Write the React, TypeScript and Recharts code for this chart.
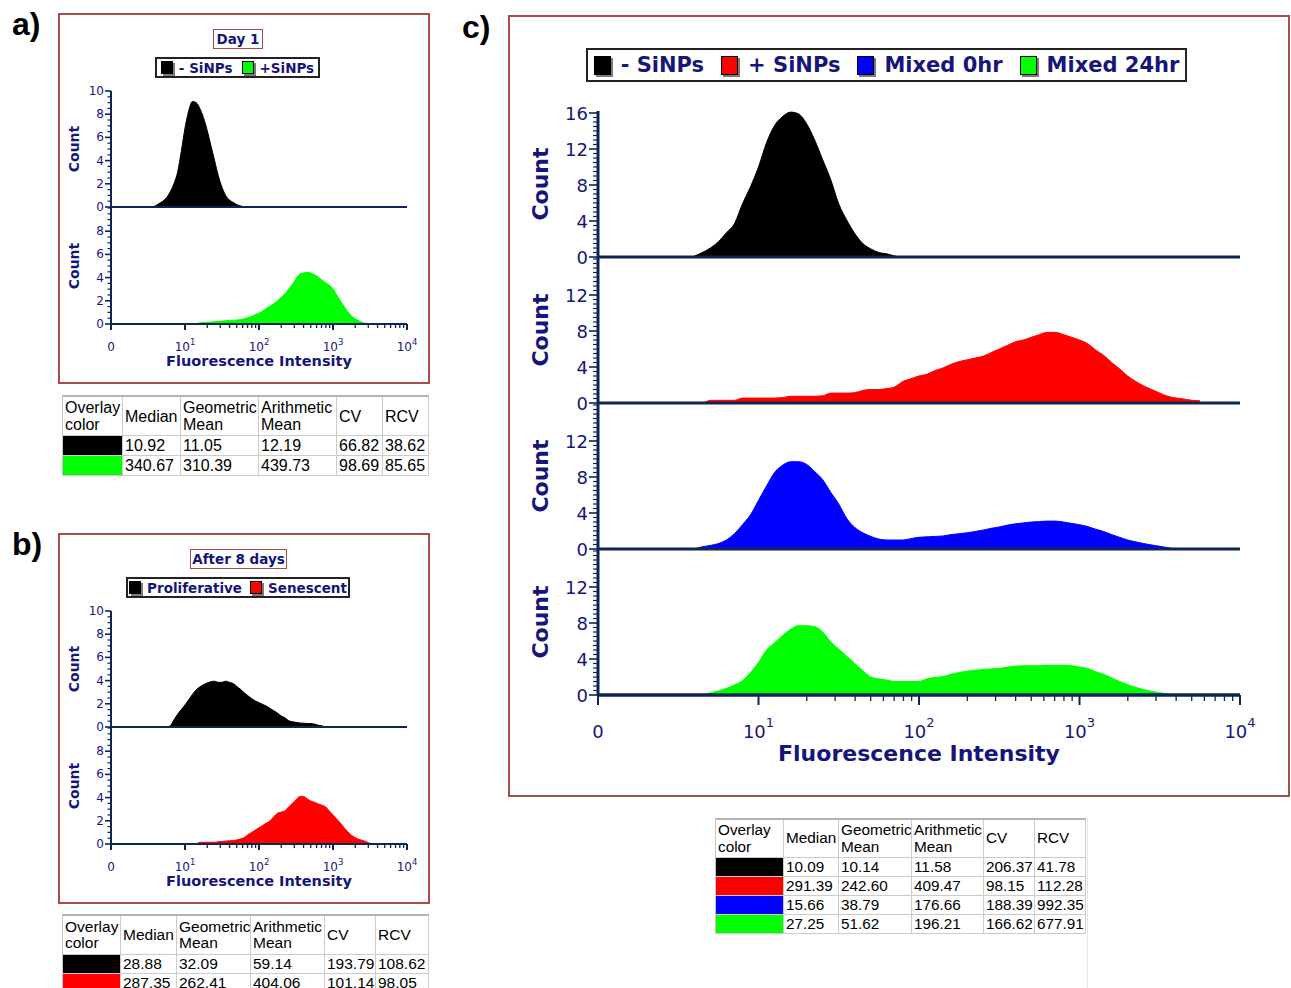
import React from "react";
import { AreaChart, Area, XAxis, YAxis, ReferenceLine } from "recharts";

// ─── Data ─────────────────────────────────────────────────────────────────────
// bin positions in decades (log10 of fluorescence intensity)
const BINS_C = [
  0.6, 0.65, 0.7, 0.75, 0.8, 0.85, 0.9, 0.95, 1.0, 1.05, 1.1, 1.15, 1.2, 1.25, 1.3, 1.35,
  1.4, 1.45, 1.5, 1.55, 1.6, 1.65, 1.7, 1.75, 1.8, 1.85, 1.9, 1.95, 2.0, 2.05, 2.1, 2.15,
  2.2, 2.25, 2.3, 2.35, 2.4, 2.45, 2.5, 2.55, 2.6, 2.65, 2.7, 2.75, 2.8, 2.85, 2.9, 2.95,
  3.0, 3.05, 3.1, 3.15, 3.2, 3.25, 3.3, 3.35, 3.4, 3.45, 3.5, 3.55, 3.6, 3.65, 3.7, 3.75,
];
const NEG_SINPS_C = [
  0.1, 0.5, 1.0, 1.7, 2.7, 3.7, 5.9, 7.8, 10.0, 12.7, 14.6, 15.6, 16.1, 15.9, 14.8, 13.0,
  10.8, 8.6, 5.9, 4.1, 2.6, 1.5, 0.9, 0.5, 0.35, 0.1, 0, 0, 0, 0, 0, 0,
  0, 0, 0, 0, 0, 0, 0, 0, 0, 0, 0, 0, 0, 0, 0, 0,
  0, 0, 0, 0, 0, 0, 0, 0, 0, 0, 0, 0, 0, 0, 0, 0,
];
const POS_SINPS_C = [
  0, 0, 0.3, 0.3, 0.3, 0.3, 0.55, 0.55, 0.55, 0.55, 0.55, 0.6, 0.75, 0.75, 0.75, 0.75,
  0.8, 1.1, 1.1, 1.1, 1.15, 1.4, 1.5, 1.5, 1.6, 1.8, 2.4, 2.7, 3.0, 3.2, 3.6, 3.9,
  4.3, 4.6, 4.8, 5.0, 5.2, 5.6, 6.0, 6.4, 6.8, 7.0, 7.3, 7.6, 7.85, 7.85, 7.6, 7.3,
  7.0, 6.6, 5.9, 5.3, 4.5, 3.8, 3.0, 2.4, 1.9, 1.5, 1.1, 0.75, 0.55, 0.45, 0.3, 0.25,
];
const MIXED_0_C = [
  0, 0.25, 0.4, 0.6, 1.0, 1.7, 2.7, 3.8, 5.4, 7.0, 8.5, 9.3, 9.7, 9.7, 9.4, 8.6,
  7.7, 6.3, 5.0, 3.4, 2.4, 1.8, 1.4, 1.1, 1.0, 1.0, 1.0, 1.15, 1.3, 1.35, 1.4, 1.45,
  1.6, 1.7, 1.8, 1.95, 2.1, 2.3, 2.45, 2.65, 2.8, 2.9, 3.0, 3.05, 3.1, 3.1, 3.0, 2.85,
  2.7, 2.5, 2.2, 1.95, 1.6, 1.3, 1.0, 0.8, 0.6, 0.45, 0.3, 0.15, 0, 0, 0, 0,
];
const MIXED_24_C = [
  0, 0, 0.25, 0.45, 0.75, 1.1, 1.6, 2.5, 3.6, 5.0, 5.8, 6.6, 7.3, 7.7, 7.7, 7.6,
  7.0, 5.9, 5.1, 4.3, 3.5, 2.7, 2.0, 1.8, 1.65, 1.5, 1.5, 1.5, 1.5, 1.8, 1.95, 2.05,
  2.3, 2.5, 2.65, 2.75, 2.85, 2.9, 2.95, 3.1, 3.2, 3.25, 3.25, 3.25, 3.3, 3.3, 3.3, 3.25,
  3.1, 2.95, 2.6, 2.3, 1.9, 1.5, 1.15, 0.85, 0.6, 0.4, 0.25, 0.1, 0, 0, 0, 0,
];

const BINS_AB = [
  0.55, 0.6, 0.65, 0.7, 0.75, 0.8, 0.85, 0.9, 0.95, 1.0, 1.05, 1.1, 1.15, 1.2, 1.25, 1.3,
  1.35, 1.4, 1.45, 1.5, 1.55, 1.6, 1.65, 1.7, 1.75, 1.8, 1.85, 1.9, 1.95, 2.0, 2.05, 2.1,
  2.15, 2.2, 2.25, 2.3, 2.35, 2.4, 2.45, 2.5, 2.55, 2.6, 2.65, 2.7, 2.75, 2.8, 2.85, 2.9,
  2.95, 3.0, 3.05, 3.1, 3.15, 3.2, 3.25, 3.3, 3.35, 3.4, 3.45, 3.5, 3.55,
];
const NEG_SINPS_A = [
  0, 0.1, 0.3, 0.5, 0.8, 1.3, 2.0, 3.0, 4.8, 6.8, 8.3, 9.1, 9.0, 8.5, 7.7, 6.6,
  5.3, 4.0, 2.7, 1.7, 1.0, 0.6, 0.4, 0.2, 0.1, 0, 0, 0, 0, 0, 0, 0,
  0, 0, 0, 0, 0, 0, 0, 0, 0, 0, 0, 0, 0, 0, 0, 0,
  0, 0, 0, 0, 0, 0, 0, 0, 0, 0, 0, 0, 0,
];
const POS_SINPS_A = [
  0, 0, 0, 0, 0, 0, 0, 0, 0, 0, 0, 0, 0, 0.1, 0.12, 0.15,
  0.17, 0.2, 0.22, 0.25, 0.28, 0.3, 0.32, 0.34, 0.38, 0.45, 0.55, 0.65, 0.8, 0.95, 1.1, 1.35,
  1.55, 1.75, 2.0, 2.3, 2.6, 3.0, 3.4, 3.9, 4.3, 4.4, 4.45, 4.4, 4.25, 4.05, 3.8, 3.55,
  3.35, 3.05, 2.5, 2.0, 1.5, 1.05, 0.7, 0.45, 0.28, 0.12, 0.05, 0, 0,
];
const PROLIFERATIVE_B = [
  0, 0, 0, 0, 0, 0.1, 0.6, 1.1, 1.5, 1.9, 2.35, 2.8, 3.2, 3.45, 3.65, 3.8,
  3.9, 3.95, 3.85, 3.85, 3.95, 3.85, 3.75, 3.5, 3.25, 2.95, 2.7, 2.45, 2.25, 2.1, 1.95, 1.8,
  1.6, 1.4, 1.2, 0.95, 0.8, 0.55, 0.45, 0.4, 0.35, 0.33, 0.3, 0.3, 0.25, 0.15, 0.1, 0,
  0, 0, 0, 0, 0, 0, 0, 0, 0, 0, 0, 0, 0,
];
const SENESCENT_B = [
  0, 0, 0, 0, 0, 0, 0, 0, 0, 0, 0, 0, 0, 0.15, 0.15, 0.15,
  0.15, 0.15, 0.2, 0.22, 0.25, 0.28, 0.3, 0.35, 0.45, 0.55, 0.8, 1.0, 1.2, 1.4, 1.6, 1.8,
  2.0, 2.35, 2.65, 2.75, 2.85, 3.2, 3.5, 3.8, 4.1, 4.1, 3.9, 3.7, 3.6, 3.45, 3.35, 3.2,
  2.85, 2.5, 2.15, 1.8, 1.4, 1.05, 0.75, 0.55, 0.4, 0.3, 0.2, 0.05, 0,
];

const X_MAJOR = [0, 1, 2, 3, 4];
const X_BASE_LABELS = ["0", "10", "10", "10", "10"];
const X_EXPONENTS = ["", "1", "2", "3", "4"];
const X_MINOR_DECADES = [1, 2, 3];
const X_MINOR_MULTIPLES = [2, 3, 4, 5, 6, 7, 8, 9];
const X_TICKS = [
  ...X_MAJOR,
  ...X_MINOR_DECADES.flatMap((d) => X_MINOR_MULTIPLES.map((k) => d + Math.log10(k))),
].sort((a, b) => a - b);

const Y_LABELS_C_TOP = [0, 4, 8, 12, 16];
const Y_LABELS_C = [0, 4, 8, 12];
const Y_LABELS_AB_TOP = [0, 2, 4, 6, 8, 10];
const Y_LABELS_AB = [0, 2, 4, 6, 8];

const LEGEND_A = ["- SiNPs", "+SiNPs"];
const LEGEND_A_COLORS = ["#000000", "#00ff00"];
const LEGEND_B = ["Proliferative", "Senescent"];
const LEGEND_B_COLORS = ["#000000", "#ff0000"];
const LEGEND_C = ["- SiNPs", "+ SiNPs", "Mixed 0hr", "Mixed 24hr"];
const LEGEND_C_COLORS = ["#000000", "#ff0000", "#0000ff", "#00ff00"];

const TABLE_HEADERS = [["Overlay", "color"], ["Median"], ["Geometric", "Mean"], ["Arithmetic", "Mean"], ["CV"], ["RCV"]];
const TABLE_A_ROWS = [
  ["10.92", "11.05", "12.19", "66.82", "38.62"],
  ["340.67", "310.39", "439.73", "98.69", "85.65"],
];
const TABLE_B_ROWS = [
  ["28.88", "32.09", "59.14", "193.79", "108.62"],
  ["287.35", "262.41", "404.06", "101.14", "98.05"],
];
const TABLE_C_ROWS = [
  ["10.09", "10.14", "11.58", "206.37", "41.78"],
  ["291.39", "242.60", "409.47", "98.15", "112.28"],
  ["15.66", "38.79", "176.66", "188.39", "992.35"],
  ["27.25", "51.62", "196.21", "166.62", "677.91"],
];

// ─── Styling ──────────────────────────────────────────────────────────────────
const FONT = "'DejaVu Sans', Verdana, sans-serif";
const TABLE_FONT = "'Liberation Sans', Arial, sans-serif";
const NAVY = "#16167a";
const AXIS = "#0c2552";
const FRAME = "#a84c4c";

type Geo = {
  axisX: number;
  decadePx: number;
  yW: number;
  padR: number;
  pxPerUnit: number;
  tickFont: number;
  supFont: number;
  supDy: number;
  xLabelDy: number;
  yMajorLen: number;
  yMinorLen: number;
  xMajorLen: number;
  xMinorLen: number;
  axisW: number;
  xH: number;
  countFont: number;
  countX: number;
  titleFont: number;
  titleDy: number;
};

const GEO_C: Geo = {
  axisX: 598, decadePx: 160.5, yW: 70, padR: 26, pxPerUnit: 9,
  tickFont: 18, supFont: 13, supDy: 11, xLabelDy: 43,
  yMajorLen: 9, yMinorLen: 5, xMajorLen: 10, xMinorLen: 6, axisW: 3, xH: 60,
  countFont: 22, countX: 541, titleFont: 22, titleDy: 59,
};
const GEO_AB: Geo = {
  axisX: 111, decadePx: 74, yW: 45, padR: 16, pxPerUnit: 11.6,
  tickFont: 12, supFont: 8.5, supDy: 6, xLabelDy: 27,
  yMajorLen: 6, yMinorLen: 3.5, xMajorLen: 6, xMinorLen: 4, axisW: 2, xH: 34,
  countFont: 14, countX: 74, titleFont: 14.5, titleDy: 37,
};

// ─── Axis ticks ───────────────────────────────────────────────────────────────
function makeXTick(g: Geo, baseY: number) {
  return (p: any) => {
    const v = p.payload.value as number;
    const idx = X_MAJOR.findIndex((m) => Math.abs(m - v) < 1e-6);
    const major = idx >= 0;
    return (
      <g>
        <line x1={p.x} x2={p.x} y1={baseY} y2={baseY + (major ? g.xMajorLen : g.xMinorLen)} stroke={AXIS} strokeWidth={major ? 2 : 1.3} />
        {major && (
          <text x={p.x} y={baseY + g.xLabelDy} textAnchor="middle" fontFamily={FONT} fontSize={g.tickFont} fill={NAVY}>
            {X_BASE_LABELS[idx]}
            {X_EXPONENTS[idx] && (
              <tspan dy={-g.supDy} fontSize={g.supFont}>
                {X_EXPONENTS[idx]}
              </tspan>
            )}
          </text>
        )}
      </g>
    );
  };
}

function makeYTick(g: Geo, labels: number[]) {
  return (p: any) => {
    const v = p.payload.value as number;
    const major = labels.includes(v);
    const ax = g.yW;
    return (
      <g>
        <line x1={ax - (major ? g.yMajorLen : g.yMinorLen)} x2={ax} y1={p.y} y2={p.y} stroke={AXIS} strokeWidth={major ? 1.6 : 1.2} />
        {major && (
          <text x={ax - g.yMajorLen - 1} y={p.y} textAnchor="end" dominantBaseline="central" fontFamily={FONT} fontSize={g.tickFont} fill={NAVY}>
            {v}
          </text>
        )}
      </g>
    );
  };
}

// ─── One histogram strip ──────────────────────────────────────────────────────
type SubplotProps = {
  bins: number[];
  values: number[];
  color: string;
  baseline: number;
  plotH: number;
  labels: number[];
  g: Geo;
  bottom?: boolean;
};

function Subplot({ bins, values, color, baseline, plotH, labels, g, bottom }: SubplotProps) {
  const MT = 14;
  const yMax = plotH / g.pxPerUnit;
  const yTicks: number[] = [];
  for (let v = 0; v <= yMax + 1e-6; v += 0.5) yTicks.push(v);
  const rows = bins.map((x, i) => ({ x, y: values[i] }));
  const width = g.yW + 4 * g.decadePx + g.padR;
  const height = MT + plotH + (bottom ? g.xH : 0);
  const baseLocal = MT + plotH;
  return (
    <>
      <div style={{ position: "absolute", left: g.axisX - g.yW, top: baseline - plotH - MT }}>
        <AreaChart width={width} height={height} data={rows} margin={{ top: MT, right: g.padR, left: 0, bottom: 0 }}>
          <XAxis
            type="number"
            dataKey="x"
            domain={[0, 4]}
            allowDataOverflow
            ticks={bottom ? X_TICKS : []}
            interval={0}
            height={bottom ? g.xH : 0}
            tickLine={false}
            axisLine={{ stroke: AXIS, strokeWidth: g.axisW }}
            tick={bottom ? makeXTick(g, baseLocal) : false}
          />
          <YAxis
            type="number"
            domain={[0, yMax]}
            allowDataOverflow
            ticks={yTicks}
            interval={0}
            width={g.yW}
            tickLine={false}
            axisLine={{ stroke: AXIS, strokeWidth: g.axisW }}
            tick={makeYTick(g, labels)}
          />
          <Area
            type="monotone"
            dataKey="y"
            stroke={color}
            strokeWidth={1}
            fill={color}
            fillOpacity={1}
            dot={false}
            activeDot={false}
            isAnimationActive={false}
          />
          <ReferenceLine y={0} stroke={AXIS} strokeWidth={g.axisW} />
        </AreaChart>
      </div>
      <div
        style={{
          position: "absolute",
          left: g.countX,
          top: baseline - plotH / 2,
          transform: "translate(-50%, -50%) rotate(-90deg)",
          fontFamily: FONT,
          fontWeight: "bold",
          fontSize: g.countFont,
          lineHeight: `${g.countFont}px`,
          color: NAVY,
          whiteSpace: "nowrap",
        }}
      >
        Count
      </div>
      {bottom && (
        <div
          style={{
            position: "absolute",
            left: g.axisX + 2 * g.decadePx,
            top: baseline + g.titleDy,
            transform: "translate(-50%, -50%)",
            fontFamily: FONT,
            fontWeight: "bold",
            fontSize: g.titleFont,
            lineHeight: `${g.titleFont}px`,
            color: NAVY,
            whiteSpace: "nowrap",
          }}
        >
          Fluorescence Intensity
        </div>
      )}
    </>
  );
}

// ─── Decorations ──────────────────────────────────────────────────────────────
function Frame({ left, top, width, height }: { left: number; top: number; width: number; height: number }) {
  return (
    <div style={{ position: "absolute", left, top, width, height, border: `2px solid ${FRAME}`, boxSizing: "border-box" }} />
  );
}

function TitleBox({ left, top, width, height, text }: { left: number; top: number; width: number; height: number; text: string }) {
  return (
    <div
      style={{
        position: "absolute", left, top, width, height, boxSizing: "border-box",
        border: `1.5px solid ${FRAME}`, display: "flex", alignItems: "center", justifyContent: "center",
        fontFamily: FONT, fontWeight: "bold", fontSize: 13.5, color: NAVY, whiteSpace: "nowrap",
      }}
    >
      {text}
    </div>
  );
}

type LegendProps = {
  left: number; top: number; width: number; height: number;
  labels: string[]; colors: string[]; font: number; sqW: number; sqH: number; gapIn: number; gapOut: number;
};

function LegendBox({ left, top, width, height, labels, colors, font, sqW, sqH, gapIn, gapOut }: LegendProps) {
  return (
    <div
      style={{
        position: "absolute", left, top, width, height, boxSizing: "border-box",
        border: "2px solid #222", background: "#fff", display: "flex", alignItems: "center", justifyContent: "center",
        fontFamily: FONT, fontWeight: "bold", fontSize: font, color: NAVY, whiteSpace: "nowrap",
      }}
    >
      {labels.map((l, i) => (
        <span key={l} style={{ display: "flex", alignItems: "center", marginLeft: i === 0 ? 0 : gapOut }}>
          <span
            style={{
              display: "inline-block", width: sqW, height: sqH, background: colors[i], boxSizing: "border-box",
              border: "1px solid #000", boxShadow: "2px 2px 0 #7a7a7a", marginRight: gapIn,
            }}
          />
          {l}
        </span>
      ))}
    </div>
  );
}

type TableProps = {
  left: number; top: number; cols: number[]; headerH: number; rowH: number; font: number; colors: string[]; rows: string[][];
};

function StatsTable({ left, top, cols, headerH, rowH, font, colors, rows }: TableProps) {
  const cell: React.CSSProperties = {
    borderRight: "1px solid #cbcbcb", borderBottom: "1px solid #cbcbcb", boxSizing: "border-box",
    display: "flex", flexDirection: "column", justifyContent: "center", padding: "0 2px",
    overflow: "hidden", whiteSpace: "nowrap",
  };
  return (
    <div
      style={{
        position: "absolute", left, top, display: "grid",
        gridTemplateColumns: cols.map((c) => `${c}px`).join(" "),
        gridTemplateRows: [headerH, ...rows.map(() => rowH)].map((h) => `${h}px`).join(" "),
        borderTop: "2px solid #b5b5b5", borderLeft: "1px solid #c5c5c5", background: "#fff",
        fontFamily: TABLE_FONT, fontSize: font, lineHeight: `${font + 1}px`, color: "#000",
      }}
    >
      {TABLE_HEADERS.map((h, i) => (
        <div key={`h${i}`} style={cell}>
          {h.map((line) => (
            <div key={line}>{line}</div>
          ))}
        </div>
      ))}
      {rows.map((r, ri) => (
        <React.Fragment key={`r${ri}`}>
          <div style={{ ...cell, background: colors[ri] }} />
          {r.map((v, ci) => (
            <div key={ci} style={cell}>
              {v}
            </div>
          ))}
        </React.Fragment>
      ))}
    </div>
  );
}

function PanelLetter({ left, top, text }: { left: number; top: number; text: string }) {
  return (
    <div
      style={{
        position: "absolute", left, top, fontFamily: TABLE_FONT, fontWeight: "bold",
        fontSize: 32, lineHeight: "32px", color: "#000",
      }}
    >
      {text}
    </div>
  );
}

// ─── Page ─────────────────────────────────────────────────────────────────────
export default function App() {
  return (
    <div style={{ position: "absolute", left: 0, top: 0, width: 1291, height: 988, overflow: "hidden", background: "#fff" }}>
      <style>{`.recharts-surface { overflow: visible; } .recharts-wrapper { overflow: visible; }`}</style>
      {/* a) */}
      <PanelLetter left={12} top={8} text="a)" />
      <Frame left={58} top={13} width={372} height={371} />
      <TitleBox left={213} top={29} width={50} height={20} text="Day 1" />
      <LegendBox left={155} top={57} width={165} height={21} labels={LEGEND_A} colors={LEGEND_A_COLORS} font={13.5} sqW={12} sqH={13} gapIn={6} gapOut={9} />
      <Subplot bins={BINS_AB} values={NEG_SINPS_A} color="#000000" baseline={207} plotH={116} labels={Y_LABELS_AB_TOP} g={GEO_AB} />
      <Subplot bins={BINS_AB} values={POS_SINPS_A} color="#00ff00" baseline={324} plotH={117} labels={Y_LABELS_AB} g={GEO_AB} bottom />
      <StatsTable left={62} top={395} cols={[60, 58, 78, 78, 46, 46]} headerH={39} rowH={20} font={16} colors={LEGEND_A_COLORS} rows={TABLE_A_ROWS} />

      {/* b) */}
      <PanelLetter left={12} top={528} text="b)" />
      <Frame left={58} top={533} width={372} height={371} />
      <TitleBox left={190} top={549} width={97} height={20} text="After 8 days" />
      <LegendBox left={126} top={577} width={224} height={21} labels={LEGEND_B} colors={LEGEND_B_COLORS} font={13.5} sqW={12} sqH={13} gapIn={6} gapOut={8} />
      <Subplot bins={BINS_AB} values={PROLIFERATIVE_B} color="#000000" baseline={727} plotH={116} labels={Y_LABELS_AB_TOP} g={GEO_AB} />
      <Subplot bins={BINS_AB} values={SENESCENT_B} color="#ff0000" baseline={844} plotH={117} labels={Y_LABELS_AB} g={GEO_AB} bottom />
      <StatsTable left={62} top={914} cols={[58, 56, 74, 74, 51, 53]} headerH={39} rowH={19} font={15.5} colors={LEGEND_B_COLORS} rows={TABLE_B_ROWS} />

      {/* c) */}
      <PanelLetter left={462} top={11} text="c)" />
      <Frame left={508} top={15} width={782} height={782} />
      <LegendBox left={586} top={48} width={601} height={34} labels={LEGEND_C} colors={LEGEND_C_COLORS} font={21} sqW={17} sqH={19} gapIn={10} gapOut={17} />
      <Subplot bins={BINS_C} values={NEG_SINPS_C} color="#000000" baseline={257} plotH={146} labels={Y_LABELS_C_TOP} g={GEO_C} />
      <Subplot bins={BINS_C} values={POS_SINPS_C} color="#ff0000" baseline={403} plotH={146} labels={Y_LABELS_C} g={GEO_C} />
      <Subplot bins={BINS_C} values={MIXED_0_C} color="#0000ff" baseline={549} plotH={146} labels={Y_LABELS_C} g={GEO_C} />
      <Subplot bins={BINS_C} values={MIXED_24_C} color="#00ff00" baseline={695} plotH={146} labels={Y_LABELS_C} g={GEO_C} bottom />
      <StatsTable left={715} top={818} cols={[68, 55, 73, 72, 51, 51]} headerH={38} rowH={19} font={15.3} colors={LEGEND_C_COLORS} rows={TABLE_C_ROWS} />
      <div style={{ position: "absolute", left: 1087, top: 818, width: 1, height: 170, background: "#e6e6e6" }} />
    </div>
  );
}
